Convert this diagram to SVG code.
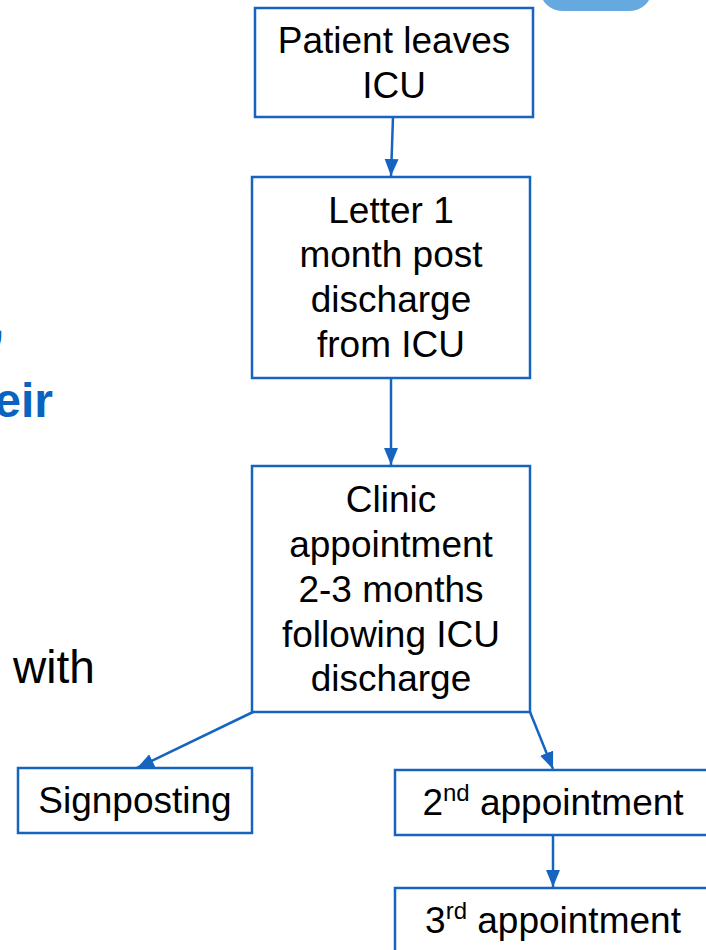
<svg xmlns="http://www.w3.org/2000/svg" width="706" height="950" viewBox="0 0 706 950">
<style>
.box{fill:#fff;stroke:#1565c0;stroke-width:2.5}
.t{font-family:"Liberation Sans",Arial,sans-serif;font-size:37px;fill:#000;text-anchor:middle}
.sup{font-size:24px}
.conn{stroke:#1565c0;stroke-width:2.5;fill:none}
.blue{font-family:"Liberation Sans",Arial,sans-serif;font-weight:bold;font-size:48px;fill:#0a63c0}
</style>
<defs>
<marker id="ah" markerUnits="userSpaceOnUse" markerWidth="18" markerHeight="16" refX="17" refY="7" orient="auto">
<path d="M0,0 L17,7 L0,14 z" fill="#1565c0"/>
</marker>
</defs>
<rect width="706" height="950" fill="#fff"/>
<g id="backdrop">
<rect x="540" y="-50" width="112" height="61" rx="22" fill="#66a9e0"/>
<text class="blue" x="-9" y="338" font-size="32">,</text>
<text class="blue" x="53" y="417" text-anchor="end">eir</text>
<text x="13" y="683" font-family="Liberation Sans, Arial, sans-serif" font-size="46" fill="#000">with</text>
</g>
<g id="connectors">
<line class="conn" x1="393" y1="117" x2="391" y2="176" marker-end="url(#ah)"/>
<line class="conn" x1="391" y1="378" x2="391" y2="465" marker-end="url(#ah)"/>
<line class="conn" x1="253" y1="712" x2="137" y2="768" marker-end="url(#ah)"/>
<line class="conn" x1="530" y1="712" x2="553" y2="769" marker-end="url(#ah)"/>
<line class="conn" x1="553" y1="835" x2="553" y2="887" marker-end="url(#ah)"/>
</g>
<g id="n1">
<rect class="box" x="255" y="8" width="278" height="109"/>
<text class="t" x="394" y="53">Patient leaves</text>
<text class="t" x="394" y="98">ICU</text>
</g>
<g id="n2">
<rect class="box" x="252" y="177" width="278" height="201"/>
<text class="t" x="391" y="223">Letter 1</text>
<text class="t" x="391" y="267">month post</text>
<text class="t" x="391" y="312">discharge</text>
<text class="t" x="391" y="357">from ICU</text>
</g>
<g id="n3">
<rect class="box" x="252" y="466" width="278" height="246"/>
<text class="t" x="391" y="512">Clinic</text>
<text class="t" x="391" y="557">appointment</text>
<text class="t" x="391" y="602">2-3 months</text>
<text class="t" x="391" y="647">following ICU</text>
<text class="t" x="391" y="691">discharge</text>
</g>
<g id="n4">
<rect class="box" x="18" y="768" width="234" height="65"/>
<text class="t" x="135" y="813">Signposting</text>
</g>
<g id="n5">
<rect class="box" x="395" y="770" width="330" height="65"/>
<text class="t" x="553" y="815">2<tspan class="sup" dy="-14">nd</tspan><tspan dy="14"> appointment</tspan></text>
</g>
<g id="n6">
<rect class="box" x="395" y="888" width="330" height="80"/>
<text class="t" x="553" y="933">3<tspan class="sup" dy="-14">rd</tspan><tspan dy="14"> appointment</tspan></text>
</g>
</svg>
